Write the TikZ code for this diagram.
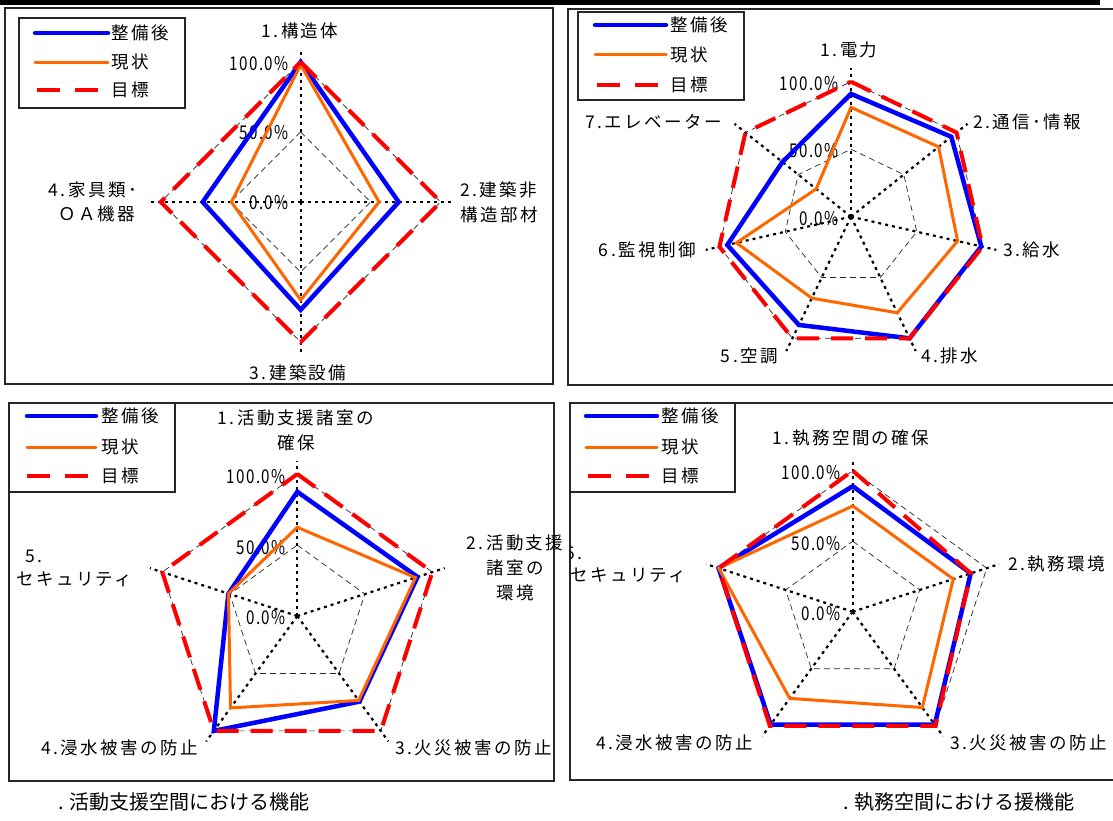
\documentclass[tikz,border=0pt]{standalone}
\usepackage{fontspec}
\setmainfont{Noto Sans CJK JP}
\newfontfamily\lblfont[LetterSpace=14]{Noto Sans CJK JP}
\newfontfamily\pctfont[LetterSpace=8,FakeStretch=0.8]{Noto Sans CJK JP}
\newfontfamily\ttlfont[LetterSpace=0]{Noto Sans CJK JP}
\definecolor{sblue}{RGB}{0,0,255}
\definecolor{sorange}{RGB}{255,102,0}
\definecolor{sred}{RGB}{255,0,0}
\newcommand\radarpoly[5]{\draw[#1] (-90:{#4*#3}) \foreach \v [count=\i from 2] in {#5} { -- ({(\i-1)*360/#2-90}:{\v*#3}) } -- cycle;}
\newcommand\ringpoly[2]{\draw[ring] (-90:#2) \foreach \i in {2,...,#1} { -- ({(\i-1)*360/#1-90}:#2) } -- cycle;}
\newcommand\spokeset[2]{\foreach \i in {1,...,#1} {\draw[spoke] (0,0) -- ({(\i-1)*360/#1-90}:#2);}}
\begin{document}
\begin{tikzpicture}[x=1pt,y=-1pt,
  serblue/.style={draw=sblue, line width=4.5pt},
  serorange/.style={draw=sorange, line width=3pt},
  serred/.style={draw=sred, line width=4pt, dash pattern=on 22pt off 12pt},
  ring/.style={draw=black!85, line width=0.7pt, dash pattern=on 6pt off 4pt},
  spoke/.style={draw=black, line width=2.2pt, dash pattern=on 3pt off 4pt},
  frame/.style={draw=black!85, line width=1.2pt},
  lbl/.style={font=\lblfont\fontsize{17.5}{25}\selectfont, inner sep=0pt},
  pct/.style={font=\pctfont\fontsize{19}{20}\selectfont, inner sep=0pt, anchor=east, text=black},
  ttl/.style={font=\ttlfont\fontsize{20}{22}\selectfont, inner sep=0pt, anchor=west},
  legblue/.style={draw=sblue, line width=4.5pt, line cap=round},
  legorange/.style={draw=sorange, line width=3pt, line cap=round},
  legred/.style={draw=sred, line width=4pt, dash pattern=on 23pt off 15pt}]
\useasboundingbox (0,0) rectangle (1113,820);
\fill[white] (0,0) rectangle (1113,820);
\clip (0,0) rectangle (1113,820);
\fill[black] (0,0) rectangle (1100,4.5);

% ---------------- Panel 1 ----------------
\coordinate (c1) at (300.7,202);
\draw[frame] (5,8) rectangle (553,384);
\begin{scope}[shift={(c1)}]
  \ringpoly{4}{70}
  \ringpoly{4}{140}
\end{scope}
\node[pct] (p1a) at (289,64) {100.0\%};
\node[pct] (p1b) at (289,133) {50.0\%};
\node[pct] (p1c) at (289,203) {0.0\%};
\begin{scope}[shift={(c1)}]
  \spokeset{4}{151}
  \radarpoly{serblue}{4}{140}{1.0}{0.70,0.77,0.70}
  \radarpoly{serorange}{4}{140}{0.98}{0.56,0.70,0.495}
  \radarpoly{serred}{4}{140}{1}{1,1,1}
\end{scope}
\node[lbl] (p1l1) at (300,31) {1.構造体};
\node[lbl, anchor=west, align=left] (p1l2) at (460,202) {2.建築非\\構造部材};
\node[lbl] (p1l3) at (298,373) {3.建築設備};
\node[lbl, anchor=east] (p1l4a) at (137,190) {4.家具類･};
\node[lbl, anchor=east] (p1l4b) at (135,214) {Ｏ\hspace{3pt}Ａ\hspace{1pt}機器};
\draw[frame] (19,18) rectangle (185,108);
\draw[legblue] (35,33) -- (108,33);
\draw[legorange] (35,62) -- (108,62);
\draw[legred] (37,90) -- (100,90);
\node[lbl, anchor=west] (p1k1) at (111,33) {整備後};
\node[lbl, anchor=west] (p1k2) at (111,62) {現状};
\node[lbl, anchor=west] (p1k3) at (111,90) {目標};

% ---------------- Panel 2 ----------------
\coordinate (c2) at (851,216.7);
\draw[frame] (568,9) rectangle (1125,385);
\begin{scope}[shift={(c2)}]
  \ringpoly{7}{67.5}
  \ringpoly{7}{135}
\end{scope}
\node[pct] (p2a) at (839,84) {100.0\%};
\node[pct] (p2b) at (839,151) {50.0\%};
\node[pct] (p2c) at (839,219) {0.0\%};
\begin{scope}[shift={(c2)}]
  \spokeset{7}{149}
  \radarpoly{serblue}{7}{135}{0.91}{0.95,0.99,1.0,0.89,0.94,0.65}
  \radarpoly{serorange}{7}{135}{0.81}{0.83,0.81,0.79,0.67,0.87,0.33}
  \radarpoly{serred}{7}{135}{1}{1,1,1,1,1,1}
\end{scope}
\node[lbl] (p2l1) at (849,50) {1.電力};
\node[lbl, anchor=west] (p2l2) at (973,122) {2.通信･情報};
\node[lbl, anchor=west] (p2l3) at (1003,250) {3.給水};
\node[lbl, anchor=west] (p2l4) at (921,356) {4.排水};
\node[lbl, anchor=east] (p2l5) at (778,356) {5.空調};
\node[lbl, anchor=east] (p2l6) at (696,250) {6.監視制御};
\node[lbl, anchor=east] (p2l7) at (722,122) {7.エレベーター};
\draw[frame] (578,12) rectangle (744,100);
\draw[legblue] (595,25) -- (666,25);
\draw[legorange] (595,54) -- (666,54);
\draw[legred] (597,85) -- (660,85);
\node[lbl, anchor=west] (p2k1) at (670,25) {整備後};
\node[lbl, anchor=west] (p2k2) at (670,55) {現状};
\node[lbl, anchor=west] (p2k3) at (670,85) {目標};

% ---------------- Panel 3 ----------------
\coordinate (c3) at (297.3,616);
\draw[frame] (9,403) rectangle (554,781);
\begin{scope}[shift={(c3)}]
  \ringpoly{5}{71}
  \ringpoly{5}{142}
\end{scope}
\node[pct] (p3a) at (286,477) {100.0\%};
\node[pct] (p3b) at (286,548) {50.0\%};
\node[pct] (p3c) at (286,618) {0.0\%};
\begin{scope}[shift={(c3)}]
  \spokeset{5}{155}
  \radarpoly{serblue}{5}{142}{0.875}{0.89,0.745,1.0,0.51}
  \radarpoly{serorange}{5}{142}{0.625}{0.875,0.735,0.80,0.51}
  \radarpoly{serred}{5}{142}{1}{1,1,1,1}
\end{scope}
\node[lbl, align=center] (p3l1) at (296,430.5) {1.活動支援諸室の\\確保};
\node[lbl, align=center] (p3l2) at (515,567.5) {2.活動支援\\諸室の\\環境};
\node[lbl, anchor=west] (p3l3) at (395,748) {3.火災被害の防止};
\node[lbl, anchor=east] (p3l4) at (198,748) {4.浸水被害の防止};
\node[lbl, anchor=west] (p3l5a) at (25,556) {5.};
\node[lbl, anchor=west] (p3l5b) at (16,579) {セキュリティ};
\draw[frame] (9,403) rectangle (175,492);
\draw[legblue] (27,416) -- (96,416);
\draw[legorange] (27,447) -- (96,447);
\draw[legred] (27,476) -- (92,476);
\node[lbl, anchor=west] (p3k1) at (101,416) {整備後};
\node[lbl, anchor=west] (p3k2) at (101,447) {現状};
\node[lbl, anchor=west] (p3k3) at (101,476) {目標};
\node[ttl] (t3) at (58,802) {. 活動支援空間における機能};

% ---------------- Panel 4 ----------------
\coordinate (c4) at (852.7,611.7);
\draw[frame] (570,403) rectangle (1125,780);
\begin{scope}[shift={(c4)}]
  \ringpoly{5}{70.5}
  \ringpoly{5}{141}
\end{scope}
\node[pct] (p4a) at (841,473) {100.0\%};
\node[pct] (p4b) at (841,544) {50.0\%};
\node[pct] (p4c) at (841,614) {0.0\%};
\begin{scope}[shift={(c4)}]
  \spokeset{5}{154}
  \radarpoly{serblue}{5}{141}{0.89}{0.88,0.99,0.99,1.0}
  \radarpoly{serorange}{5}{141}{0.75}{0.75,0.84,0.76,1.0}
  \radarpoly{serred}{5}{141}{1}{0.88,1,1,1}
\end{scope}
\node[lbl] (p4l1) at (851,438) {1.執務空間の確保};
\node[lbl, anchor=west] (p4l2) at (1008,564) {2.執務環境};
\node[lbl, anchor=west] (p4l3) at (950,743) {3.火災被害の防止};
\node[lbl, anchor=east] (p4l4) at (753,743) {4.浸水被害の防止};
\begin{scope}
  \clip (570,530) rectangle (640,570);
  \node[lbl, anchor=west] (p4l5a) at (565,553) {5.};
\end{scope}
\node[lbl, anchor=west] (p4l5b) at (570,575) {セキュリティ};
\draw[frame] (570,403) rectangle (735,492);
\draw[legblue] (586,416) -- (657,416);
\draw[legorange] (586,447) -- (657,447);
\draw[legred] (588,476) -- (652,476);
\node[lbl, anchor=west] (p4k1) at (661,416) {整備後};
\node[lbl, anchor=west] (p4k2) at (661,447) {現状};
\node[lbl, anchor=west] (p4k3) at (661,476) {目標};
\node[ttl] (t4) at (843,802) {. 執務空間における援機能};
\end{tikzpicture}
\end{document}
